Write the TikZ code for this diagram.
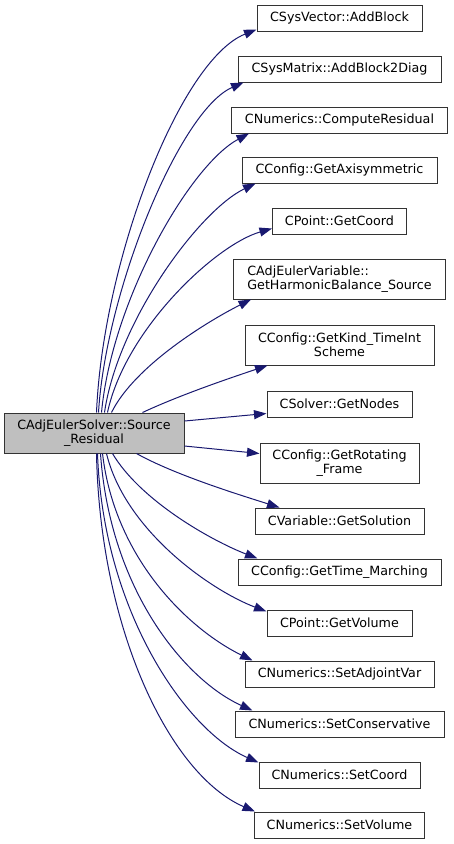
\documentclass[tikz,border=0pt]{standalone}
\usepackage{fontspec}
\setmainfont{DejaVu Sans}
\usetikzlibrary{arrows.meta}
\definecolor{edgeblue}{HTML}{191970}
\definecolor{maingray}{HTML}{BFBFBF}
\tikzset{
  box/.style={draw=black!80, line width=1pt, fill=white, inner sep=2pt,
    font=\fontsize{12.7}{14}\selectfont, align=center},
  fnbox/.style={box, minimum height=26pt},
  fnbox2/.style={box, minimum height=40pt},
  edge/.style={draw=edgeblue, line width=1pt, -{Triangle[length=12.5pt,width=9pt]}},
}
\begin{document}
\begin{tikzpicture}[x=1pt,y=-1pt]
\useasboundingbox (0,0) rectangle (453,844);
% main node
\node[box, fill=maingray, minimum width=180pt, minimum height=40pt] (main) at (94,433) {CAdjEulerSolver::Source\\\_Residual};
% callees
\node[fnbox, minimum width=165pt] (ab)  at (339.5,18)  {CSysVector::AddBlock};
\node[fnbox, minimum width=203pt] (abd) at (339.5,69)  {CSysMatrix::AddBlock2Diag};
\node[fnbox, minimum width=216pt] (cr)  at (339.5,120) {CNumerics::ComputeResidual};
\node[fnbox, minimum width=195pt] (ga)  at (339.5,170) {CConfig::GetAxisymmetric};
\node[fnbox, minimum width=134pt] (gc)  at (339.5,221) {CPoint::GetCoord};
\node[fnbox2, minimum width=212pt, align=left] (hb) at (339.5,279) {CAdjEulerVariable::\\GetHarmonicBalance\_Source};
\node[fnbox2, minimum width=189pt] (gk)  at (339.5,345) {CConfig::GetKind\_TimeInt\\Scheme};
\node[fnbox, minimum width=145pt] (gn)  at (339.5,404) {CSolver::GetNodes};
\node[fnbox2, minimum width=159pt] (gr)  at (339.5,463) {CConfig::GetRotating\\\_Frame};
\node[fnbox, minimum width=169pt] (gs)  at (339.5,521) {CVariable::GetSolution};
\node[fnbox, minimum width=203pt] (gt)  at (339.5,572) {CConfig::GetTime\_Marching};
\node[fnbox, minimum width=145pt] (gv)  at (339.5,623) {CPoint::GetVolume};
\node[fnbox, minimum width=189pt] (sa)  at (339.5,674) {CNumerics::SetAdjointVar};
\node[fnbox, minimum width=209pt] (sc)  at (339.5,724) {CNumerics::SetConservative};
\node[fnbox, minimum width=161pt] (sco) at (339.5,775) {CNumerics::SetCoord};
\node[fnbox, minimum width=170pt] (sv)  at (339.5,825) {CNumerics::SetVolume};
% edges (upper group)
\draw[edge] ([xshift=93pt]main.north west) .. controls (103,260) and (180,60) .. ([yshift=2pt]ab.south west);
\draw[edge] ([xshift=95pt]main.north west) .. controls (106,290) and (180,110) .. ([xshift=6pt]abd.south west);
\draw[edge] ([xshift=98pt]main.north west) .. controls (112,300) and (190,165) .. ([xshift=18pt]cr.south west);
\draw[edge] ([xshift=101pt]main.north west) .. controls (118,320) and (200,210) .. ([xshift=14pt]ga.south west);
\draw[edge] ([xshift=104pt]main.north west) .. controls (125,330) and (215,245) .. ([yshift=6pt]gc.south west);
\draw[edge] ([xshift=108pt]main.north west) .. controls (135,365) and (210,320) .. ([xshift=18pt]hb.south west);
\draw[edge] ([xshift=139pt]main.north west) .. controls (180,395) and (230,378) .. ([xshift=23pt]gk.south west);
\draw[edge] ([yshift=12pt]main.east) -- ([yshift=4pt]gn.south west);
\draw[edge] ([yshift=-13pt]main.east) -- ([yshift=-11pt]gr.north west);
% edges (lower group)
\draw[edge] ([xshift=133pt]main.south west) .. controls (175,475) and (240,495) .. ([xshift=25pt]gs.north west);
\draw[edge] ([xshift=109pt]main.south west) .. controls (140,500) and (210,540) .. ([xshift=20pt]gt.north west);
\draw[edge] ([xshift=103pt]main.south west) .. controls (125,530) and (210,590) .. ([yshift=-2pt]gv.north west);
\draw[edge] ([xshift=99pt]main.south west) .. controls (115,560) and (190,630) .. ([xshift=8pt]sa.north west);
\draw[edge] ([xshift=97pt]main.south west) .. controls (110,590) and (185,680) .. ([xshift=18pt]sc.north west);
\draw[edge] ([xshift=94pt]main.south west) .. controls (103,610) and (185,730) .. ([yshift=-1pt]sco.north west);
\draw[edge] ([xshift=93pt]main.south west) .. controls (100,630) and (170,775) .. ([xshift=1pt]sv.north west);
\end{tikzpicture}
\end{document}
